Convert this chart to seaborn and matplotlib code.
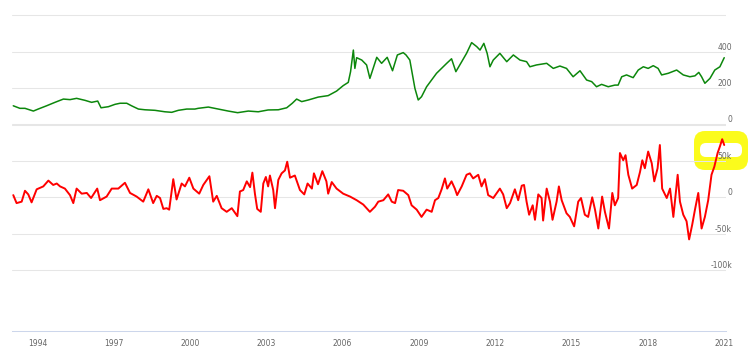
import matplotlib
matplotlib.use("Agg")
import matplotlib.pyplot as plt
from matplotlib.patches import FancyBboxPatch
import seaborn as sns

# price (top pane, green)
price_years = [1993.05, 1993.31, 1993.51, 1993.84,
               1994.03, 1994.36, 1994.69,
               1995.02, 1995.28, 1995.54, 1995.87,
               1996.13, 1996.37, 1996.50, 1996.79,
               1997.05, 1997.25, 1997.51, 1997.70, 1997.97,
               1998.23, 1998.62,
               1999.01, 1999.28, 1999.54, 1999.87,
               2000.19, 2000.32, 2000.72,
               2001.11, 2001.50, 2001.87,
               2002.29, 2002.68,
               2003.07, 2003.47, 2003.80,
               2004.02, 2004.19, 2004.39, 2004.65,
               2005.04, 2005.43, 2005.76,
               2006.02, 2006.22, 2006.31, 2006.42, 2006.48, 2006.55, 2006.75, 2006.94,
               2007.07, 2007.34, 2007.53, 2007.75, 2007.96,
               2008.15, 2008.38, 2008.49, 2008.64, 2008.84, 2008.97,
               2009.10, 2009.30, 2009.69,
               2010.09, 2010.28, 2010.45, 2010.68, 2010.87,
               2011.07, 2011.27, 2011.40, 2011.55, 2011.68, 2011.79, 2011.92,
               2012.18, 2012.45, 2012.71, 2012.97,
               2013.23, 2013.36, 2013.62,
               2014.02, 2014.28, 2014.54, 2014.80,
               2015.06, 2015.33, 2015.59, 2015.79, 2015.98,
               2016.18, 2016.44, 2016.70, 2016.83, 2016.97,
               2017.16, 2017.42, 2017.62, 2017.82,
               2018.01, 2018.21, 2018.40, 2018.54, 2018.80,
               2019.13, 2019.39, 2019.65, 2019.85,
               2020.00, 2020.11, 2020.24, 2020.44, 2020.63, 2020.83,
               2021.00]
price = [102, 88, 88, 73,
         84, 102, 121,
         139, 136, 143, 132,
         121, 128, 91, 97,
         110, 116, 116, 102, 84,
         80, 77,
         69, 66, 77, 84,
         84, 88, 95,
         84, 73, 64,
         73, 69,
         79, 80, 91,
         116, 139, 125, 134,
         150, 158, 183,
         213, 231, 290, 409, 308, 367, 354, 327,
         253, 369, 336, 369, 295,
         382, 395, 382, 354, 198, 134,
         152, 207, 281,
         336, 361, 290, 345, 391,
         450, 428, 409, 446, 391, 317, 354,
         391, 345, 382, 354,
         345, 317, 327,
         336, 308, 321, 308,
         262, 295, 244, 235, 207,
         220, 207, 216, 216, 262,
         272, 257, 299, 317,
         308, 323, 308, 272, 281,
         299, 272, 262, 267,
         286, 262, 226, 253, 299, 317,
         367]

# net position in thousands (bottom pane, red)
net_years = [1993.05, 1993.18, 1993.38, 1993.51, 1993.64, 1993.77, 1993.97,
             1994.23, 1994.43, 1994.62, 1994.76, 1994.89,
             1995.08, 1995.28, 1995.41, 1995.54, 1995.74, 1995.94,
             1996.11, 1996.35, 1996.46, 1996.72, 1996.92,
             1997.18, 1997.44, 1997.64, 1997.90,
             1998.16, 1998.36, 1998.55, 1998.69, 1998.82, 1998.95,
             1999.08, 1999.18, 1999.34, 1999.47, 1999.67, 1999.80, 1999.97,
             2000.13, 2000.36, 2000.52, 2000.76, 2000.91,
             2001.05, 2001.24, 2001.44, 2001.64, 2001.86, 2001.96,
             2002.09, 2002.23, 2002.36, 2002.45, 2002.55, 2002.64, 2002.78, 2002.88, 2002.98,
             2003.07, 2003.14, 2003.27, 2003.34, 2003.47, 2003.60, 2003.73, 2003.82, 2003.93,
             2004.12, 2004.32, 2004.49, 2004.62, 2004.79, 2004.87,
             2005.03, 2005.20, 2005.36, 2005.43, 2005.57, 2005.76,
             2006.02, 2006.29, 2006.55, 2006.81,
             2007.07, 2007.27, 2007.40, 2007.60, 2007.79, 2007.93,
             2008.06, 2008.18, 2008.38, 2008.58, 2008.71, 2008.91,
             2009.10, 2009.30, 2009.50, 2009.63, 2009.76, 2009.89,
             2010.02, 2010.11, 2010.28, 2010.41, 2010.50, 2010.68, 2010.87,
             2011.00, 2011.13, 2011.33, 2011.46, 2011.59, 2011.72, 2011.92,
             2012.18, 2012.31, 2012.45, 2012.58, 2012.77, 2012.90,
             2013.04, 2013.13, 2013.23, 2013.33, 2013.47, 2013.56, 2013.69, 2013.82, 2013.88,
             2014.02, 2014.15, 2014.25, 2014.41, 2014.50, 2014.61, 2014.80, 2014.93,
             2015.10, 2015.26, 2015.37, 2015.52, 2015.65, 2015.81, 2015.92,
             2016.05, 2016.20, 2016.31, 2016.47, 2016.60, 2016.70, 2016.83, 2016.90,
             2017.03, 2017.12, 2017.23, 2017.38, 2017.56, 2017.69, 2017.78, 2017.88,
             2018.01, 2018.15, 2018.25, 2018.38, 2018.47, 2018.56, 2018.74, 2018.87,
             2019.00, 2019.17, 2019.26, 2019.39, 2019.52, 2019.62, 2019.74, 2019.85, 2019.98,
             2020.11, 2020.24, 2020.37, 2020.50, 2020.61, 2020.74, 2020.83, 2020.92, 2021.00]
net_k = [3, -8, -6, 9, 4, -7, 11,
         15, 23, 17, 19, 15,
         12, 3, -8, 12, 5, 6,
         -1, 12, -4, 1, 12,
         12, 20, 6, 1,
         -6, 11, -8, 2, -1, -16,
         -15, -17, 25, -3, 19, 15, 27,
         12, 5, 17, 29, -6,
         2, -15, -20, -15, -26, 8,
         10, 22, 14, 34, 5, -16, -20, 19, 28,
         15, 30, 10, -15, 24, 33, 37, 49, 27,
         30, 10, 4, 19, 12, 33,
         18, 36, 22, 5, 21, 12,
         5, 1, -4, -10,
         -20, -13, -6, -4, 4, -6,
         -8, 10, 9, 3, -11, -17,
         -27, -17, -20, -4, -1, 11,
         26, 12, 22, 12, 3, 15, 31,
         33, 26, 31, 15, 25, 3, -1,
         12, 4, -15, -8, 11, -4,
         16, 17, -6, -24, -11, -31, 4, -1, -32,
         12, -6, -31, -6, 15, -4, -22, -27,
         -40, -6, -1, -24, -27, 0, -17,
         -43, 1, -20, -43, 6, -11, -1, 61,
         51, 58, 31, 12, 17, 35, 51, 40,
         63, 47, 22, 40, 72, 12, -1, 12,
         -27, 31, -6, -24, -33, -58, -38, -17, 6,
         -43, -27, -4, 31, 42, 61, 70, 80, 72]

year_ticks = [1994, 1997, 2000, 2003, 2006, 2009, 2012, 2015, 2018, 2021]
price_ticks = [0, 200, 400, 600]
price_labels = ["0", "200", "400", ""]
net_ticks = [-100, -50, 0, 50, 100]
net_labels = ["-100k", "-50k", "0", "50k", ""]

sns.set_style("white")
plt.rcParams['font.family'] = ['DejaVu Sans']

grid_c = "#e6e6e6"
axis_c = "#ccd6eb"
text_c = "#666666"

fig = plt.figure(figsize=(7.5, 3.52), dpi=100)
ax = fig.add_axes([12/750, 1 - 331/352, 714/750, 317/352])
ax2 = ax.twinx()

sns.lineplot(x=net_years, y=net_k, ax=ax, color="#ff0000", linewidth=1.4, zorder=3)
sns.lineplot(x=price_years, y=price, ax=ax2, color="#0c870c", linewidth=1.1, zorder=3)

ax.set_xlim(1993.0, 2021.07)
ax.set_ylim(-184.16, 252.48)
ax2.set_ylim(-1138.8, 607.7)

ax.set_xticks(year_ticks)
ax.set_xticklabels([str(y) for y in year_ticks])
ax.tick_params(axis='x', direction='out', length=4.3, width=0.72, color=axis_c,
               labelsize=5.5, labelcolor=text_c, pad=1.5)

for a, ticks, labels in [(ax, net_ticks, net_labels), (ax2, price_ticks, price_labels)]:
    a.yaxis.tick_right()
    a.set_yticks(ticks)
    a.set_yticklabels(labels)
    a.tick_params(axis='y', length=0, pad=4.3, labelsize=5.5, labelcolor=text_c)
    for lab in a.get_yticklabels():
        lab.set_ha('right')
        lab.set_va('bottom')
    a.grid(axis='y', color=grid_c, linewidth=0.75)
    a.grid(axis='x', visible=False)
    a.set_xlabel("")
    a.set_ylabel("")
    for s in a.spines.values():
        s.set_visible(False)

# axes above the highlight, lines above the axes
ax.yaxis.set_zorder(2)
ax.xaxis.set_zorder(2)
ax2.set_axisbelow(True)

ax.spines['bottom'].set_visible(True)
ax.spines['bottom'].set_color(axis_c)
ax.spines['bottom'].set_linewidth(0.75)

# yellow hand-drawn highlight around the 50k label
ax.add_patch(FancyBboxPatch((6.94, 1.82), 0.54, 0.39,
                            boxstyle="round,pad=0,rounding_size=0.11",
                            transform=fig.dpi_scale_trans, fc="#fbfb1c", ec="none",
                            clip_on=False, zorder=1))
ax.add_patch(FancyBboxPatch((7.00, 1.95), 0.42, 0.14,
                            boxstyle="round,pad=0,rounding_size=0.06",
                            transform=fig.dpi_scale_trans, fc="white", ec="none",
                            clip_on=False, zorder=1.1))

fig.savefig("out.png", dpi=100)
